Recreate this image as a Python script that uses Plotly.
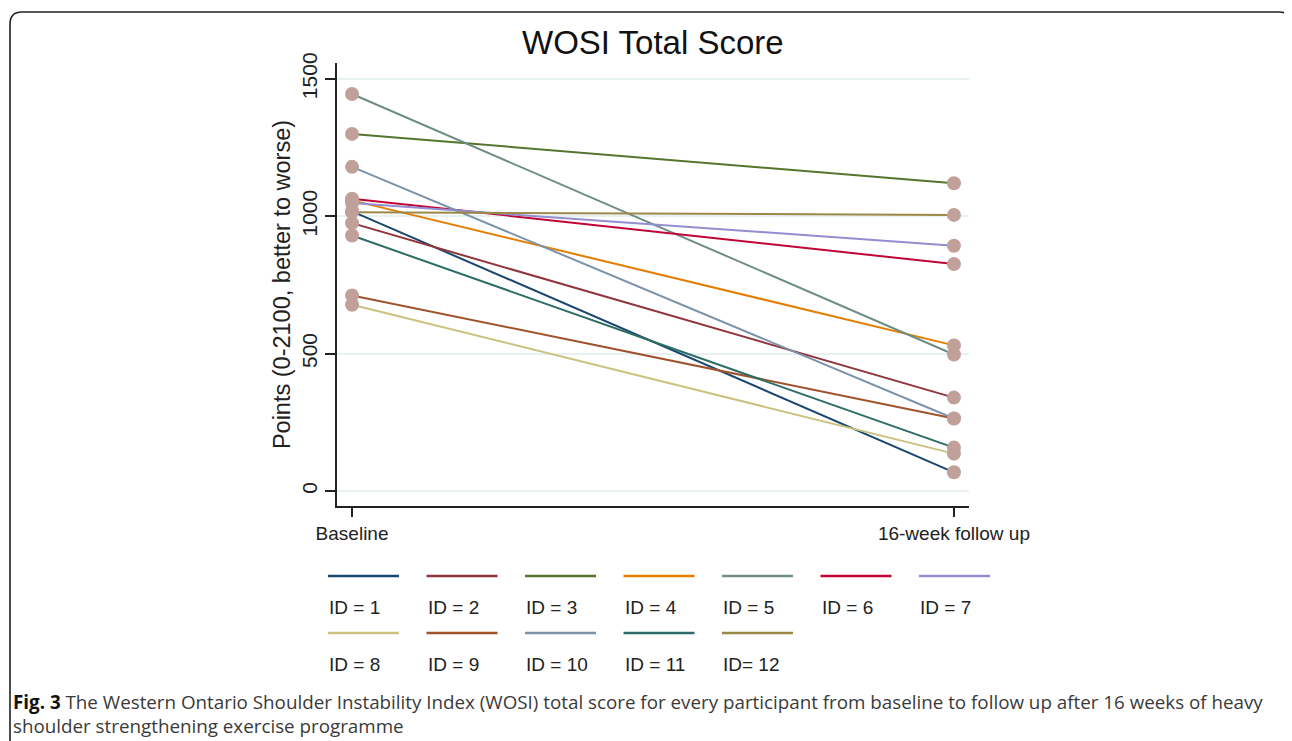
import plotly.graph_objects as go

# ---- data ----
ids = ["ID = 1", "ID = 2", "ID = 3", "ID = 4", "ID = 5", "ID = 6",
       "ID = 7", "ID = 8", "ID = 9", "ID = 10", "ID = 11", "ID= 12"]
baseline = [1018, 975, 1300, 1058, 1445, 1064, 1048, 678, 712, 1180, 930, 1015]
followup = [68, 340, 1120, 530, 497, 826, 893, 136, 264, 264, 158, 1005]
time_labels = ["Baseline", "16-week follow up"]
time_pos = [0, 1]
colors = ["#1a476f", "#90353b", "#55752f", "#e37e00", "#6e8e84", "#c10534",
          "#938dd2", "#cac27e", "#a0522d", "#7b92a8", "#2d6d66", "#9c8847"]
y_ticks = [0, 500, 1000, 1500]

OFF = 8  # page body margin of the browser
W, H = 1292 - OFF, 741 - OFF
L, R, T, B = 337 - OFF, 969 - OFF, 63 - OFF, 506 - OFF  # plot area in figure pixels

def px(x):
    # x given in screenshot pixels
    return (x - OFF - L) / (R - L)

def py(y):
    return (B - (y - OFF)) / (B - T)

fig = go.Figure()

for i in range(len(ids)):
    fig.add_trace(go.Scatter(
        x=time_pos, y=[baseline[i], followup[i]], mode="lines",
        line=dict(color=colors[i], width=2), name=ids[i], showlegend=False,
        hoverinfo="skip"))

for i in range(len(ids)):
    fig.add_trace(go.Scatter(
        x=time_pos, y=[baseline[i], followup[i]], mode="markers",
        marker=dict(color="#c0a098", size=14), showlegend=False,
        hoverinfo="skip"))

shapes = []
annotations = []

# custom legend: line sample with label below, 7 columns
col_x0 = 328
col_pitch = 98.5
row_line_y = [576, 633]
row_label_y = [607, 664]
for i in range(len(ids)):
    r, c = divmod(i, 7)
    x0 = col_x0 + c * col_pitch
    shapes.append(dict(type="line", xref="paper", yref="paper",
                       x0=px(x0), x1=px(x0 + 71), y0=py(row_line_y[r]), y1=py(row_line_y[r]),
                       line=dict(color=colors[i], width=2.5)))
    annotations.append(dict(text=ids[i], xref="paper", yref="paper",
                            x=px(x0 - 1), y=py(row_label_y[r]), xanchor="left", yanchor="middle",
                            showarrow=False,
                            font=dict(family="Liberation Sans, Arial", size=19, color="#222")))

# frame with rounded corners
fx0, fy0, fx1, fy1, rad = 10, 12, 1291, 780, 12
path = (f"M {px(fx0)} {py(fy1)} L {px(fx0)} {py(fy0 + rad)} "
        f"Q {px(fx0)} {py(fy0)} {px(fx0 + rad)} {py(fy0)} "
        f"L {px(fx1 - rad)} {py(fy0)} "
        f"Q {px(fx1)} {py(fy0)} {px(fx1)} {py(fy0 + rad)} "
        f"L {px(fx1)} {py(fy1)}")
shapes.append(dict(type="path", xref="paper", yref="paper", path=path,
                   line=dict(color="#222", width=1.6)))

# title
annotations.append(dict(text="WOSI Total Score", xref="paper", yref="paper",
                        x=px(653), y=py(42), xanchor="center", yanchor="middle",
                        showarrow=False,
                        font=dict(family="Liberation Sans, Arial", size=33, color="#111")))

# caption
cap_font = dict(family="Open Sans", size=18.8, color="#3a3a3a")
annotations.append(dict(
    text="<b style='color:#111'>Fig. 3</b> The Western Ontario Shoulder Instability Index (WOSI) total score for every participant from baseline to follow up after 16 weeks of heavy",
    xref="paper", yref="paper", x=px(11), y=py(702), xanchor="left", yanchor="middle",
    showarrow=False, font=cap_font))
annotations.append(dict(
    text="shoulder strengthening exercise programme",
    xref="paper", yref="paper", x=px(11), y=py(726), xanchor="left", yanchor="middle",
    showarrow=False, font=cap_font))

fig.update_layout(
    width=W, height=H,
    margin=dict(l=L, r=W - R, t=T, b=H - B, pad=0),
    paper_bgcolor="white", plot_bgcolor="white",
    shapes=shapes, annotations=annotations,
    showlegend=False,
    font=dict(family="Liberation Sans, Arial", color="#222"),
    xaxis=dict(range=[-0.025, 1.025], tickvals=time_pos, ticktext=time_labels,
               showgrid=False, zeroline=False, showline=True, linecolor="#222", linewidth=1.5,
               ticks="outside", ticklen=9, tickwidth=1.5, tickcolor="#222",
               tickfont=dict(size=19, color="#222")),
    yaxis=dict(range=[-54.6, 1558], tickvals=y_ticks, tickangle=-90,
               showgrid=True, gridcolor="#e8f1f2", gridwidth=1.5, zeroline=False,
               showline=True, linecolor="#222", linewidth=1.5,
               ticks="outside", ticklen=10, tickwidth=1.5, tickcolor="#222",
               tickfont=dict(size=21, color="#222"),
               title=dict(text="Points (0-2100, better to worse)", standoff=1,
                          font=dict(size=23.5, color="#222"))),
)

fig.write_html("out.html")
